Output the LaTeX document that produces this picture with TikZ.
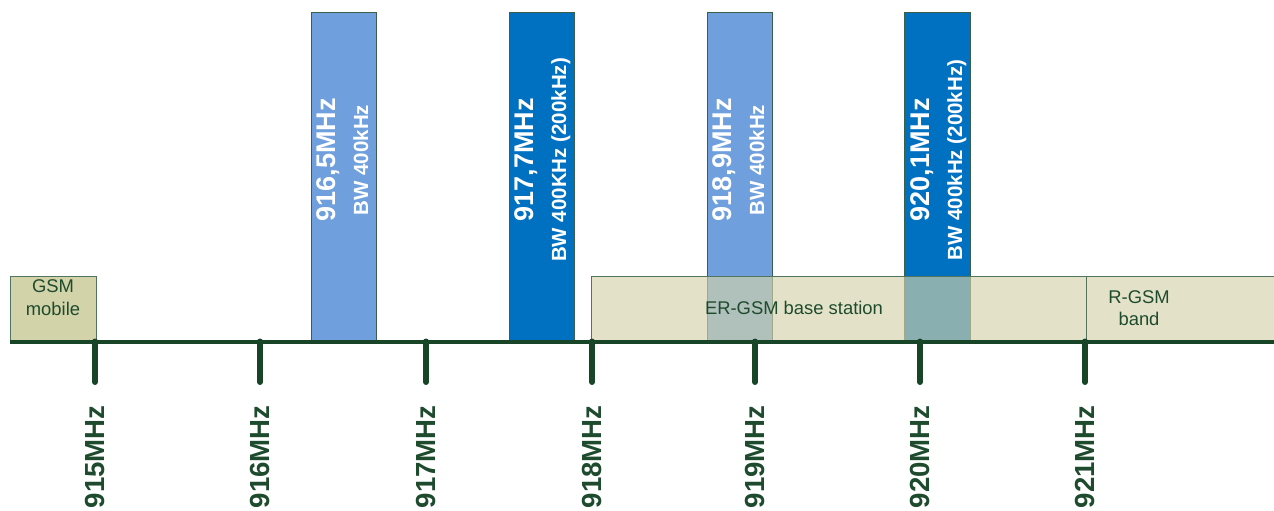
\documentclass[tikz,border=0pt]{standalone}
\usepackage{fontspec}
\setmainfont{Liberation Sans}
\definecolor{dkgreen}{RGB}{24,68,40}
\definecolor{txtgreen}{RGB}{30,75,45}
\definecolor{khaki}{RGB}{211,211,170}
\definecolor{khakit}{RGB}{212,210,170}
\definecolor{ltblue}{RGB}{111,159,220}
\definecolor{dkblue}{RGB}{0,112,192}
\begin{document}
\begin{tikzpicture}[x=0.5pt,y=-0.5pt,
  barbox/.style={draw=dkgreen!85, line width=0.5pt},
  bandbox/.style={draw=dkgreen!75, line width=0.5pt, fill=khakit, fill opacity=0.65},
  tickline/.style={draw=dkgreen, line width=3pt, line cap=round},
  axisline/.style={draw=dkgreen, line width=2pt},
  ticklabel/.style={rotate=90, anchor=east, font=\fontsize{13.8}{16}\selectfont\bfseries, text=txtgreen, inner sep=0pt},
  bigtxt/.style={rotate=90, anchor=base, font=\fontsize{13.5}{16}\selectfont\bfseries, text=white, inner sep=0pt},
  smalltxt/.style={rotate=90, anchor=base, font=\fontsize{10.25}{12}\selectfont\bfseries, text=white, inner sep=0pt},
  boxtxt/.style={font=\fontsize{9.2}{11.2}\selectfont, text=txtgreen, align=center, inner sep=0pt}
]
\useasboundingbox (0,0) rectangle (1274,510);

% GSM mobile box
\draw[draw=dkgreen!75, line width=0.5pt, fill=khaki] (10,276) rectangle (96,341);
\node[boxtxt, anchor=north] (gsm) at (53,279.5) {GSM\\mobile};

% bars
\draw[barbox, fill=ltblue] (311,12) rectangle (376,341);
\draw[barbox, fill=dkblue] (509,12) rectangle (574,341);
\draw[barbox, fill=ltblue] (707,12) rectangle (772,341);
\draw[barbox, fill=dkblue] (904,12) rectangle (970,341);

\node[bigtxt]   (f1a) at (335,160) {916,5MHz};
\node[smalltxt] (f1b) at (368,160) {BW 400kHz};
\node[bigtxt]   (f2a) at (533,160) {917,7MHz};
\node[smalltxt] (f2b) at (566,160) {BW 400KHz (200kHz)};
\node[bigtxt]   (f3a) at (731,160) {918,9MHz};
\node[smalltxt] (f3b) at (764,160) {BW 400kHz};
\node[bigtxt]   (f4a) at (929,160) {920,1MHz};
\node[smalltxt] (f4b) at (962,160) {BW 400kHz (200kHz)};

% bands
\draw[bandbox] (591,276) rectangle (1086,341);
\draw[bandbox] (1086,276) rectangle (1280,341);
\node[boxtxt] (er) at (794,308) {ER-GSM base station};
\node[boxtxt, anchor=north] (rgsm) at (1139,290) {R-GSM\\band};

% axis
\coordinate (a0) at (10,341.5);
\coordinate (a1) at (1274,341.5);
\draw[axisline] (a0) -- (a1);

\foreach \x/\lab in {95/915,260/916,426/917,592/918,755/919,920/920,1085/921}{
  \coordinate (t\lab) at (\x,341.5);
  \coordinate (b\lab) at (\x,382);
  \draw[tickline] (t\lab) -- (b\lab);
  \node[ticklabel] (l\lab) at (\x,405) {\lab MHz};
}
\end{tikzpicture}
\end{document}
